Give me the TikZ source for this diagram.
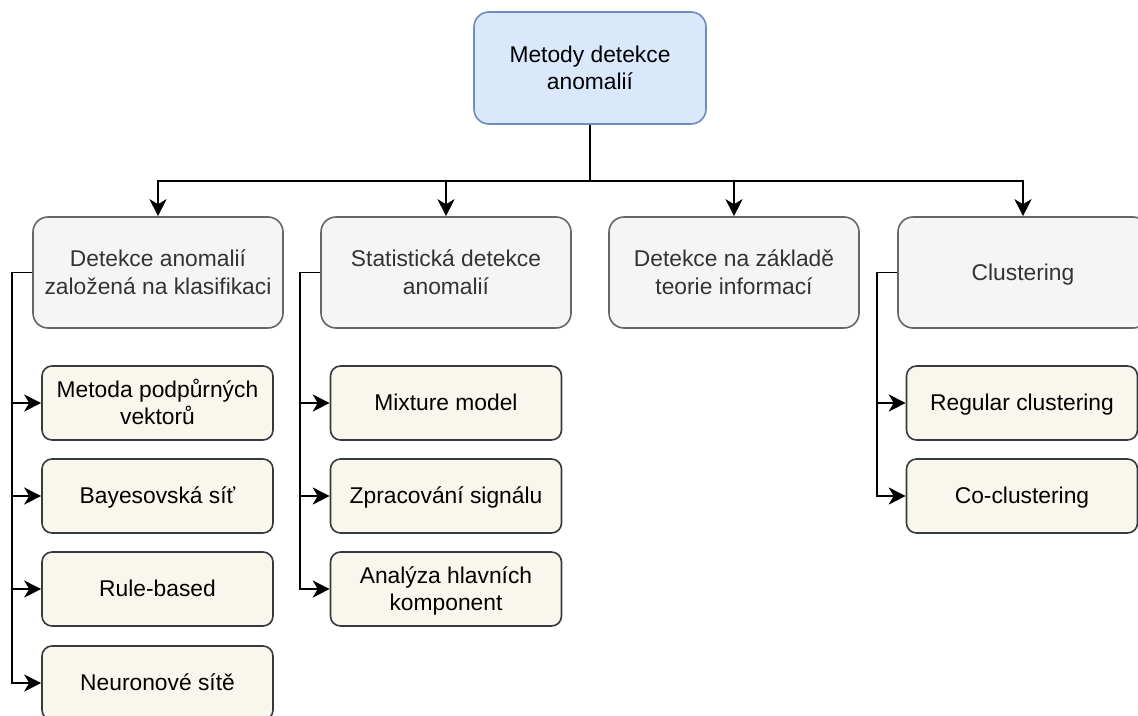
\documentclass[tikz,border=0pt]{standalone}
\usepackage{fontspec}
\setmainfont{Liberation Sans}
\usetikzlibrary{arrows.meta}
\definecolor{topfill}{HTML}{DAE8FC}
\definecolor{topdraw}{HTML}{6C8EBF}
\definecolor{midfill}{HTML}{F5F5F5}
\definecolor{middraw}{HTML}{666666}
\definecolor{midtext}{HTML}{333333}
\definecolor{leaffill}{HTML}{F9F7ED}
\definecolor{leafdraw}{HTML}{36393D}
\newcommand{\dstrut}{\rule[-0.2535em]{0pt}{1.2em}}
\tikzset{
  txt/.style={font=\fontsize{22.8}{27.4}\selectfont, align=center, inner sep=0pt},
  topbox/.style={txt, draw=topdraw, fill=topfill, line width=1.6pt, rounded corners=15pt,
    minimum width=232pt, minimum height=112pt},
  midbox/.style={txt, draw=middraw, fill=midfill, text=midtext, line width=1.6pt, rounded corners=15pt,
    minimum width=250pt, minimum height=111pt},
  leafbox/.style={txt, draw=leafdraw, fill=leaffill, line width=1.6pt, rounded corners=10pt,
    minimum width=231pt, minimum height=74pt},
  arr/.style={line width=1.8pt, -{Stealth[length=17pt,width=17pt,inset=5pt]}}
}
\begin{document}
\begin{tikzpicture}[x=1pt,y=-1pt]
\useasboundingbox (0,0) rectangle (1138,715);
\fill[white] (0,0) rectangle (1138,715);

\node[topbox] (top) at (590,68) {\dstrut Metody detekce\\\dstrut anomalií};

\node[midbox] (b1) at (158,272.5) {\dstrut Detekce anomalií\\\dstrut založená na klasifikaci};
\node[midbox] (b2) at (446,272.5) {\dstrut Statistická detekce\\\dstrut anomalií};
\node[midbox] (b3) at (734,272.5) {\dstrut Detekce na základě\\\dstrut teorie informací};
\node[midbox] (b4) at (1023,272.5) {\dstrut Clustering};

\node[leafbox] (l1) at (157.5,403) {\dstrut Metoda podpůrných\\\dstrut vektorů};
\node[leafbox] (l2) at (157.5,496) {\dstrut Bayesovská síť};
\node[leafbox] (l3) at (157.5,589) {\dstrut Rule-based};
\node[leafbox] (l4) at (157.5,683) {\dstrut Neuronové sítě};

\node[leafbox] (m1) at (446,403) {\dstrut Mixture model};
\node[leafbox] (m2) at (446,496) {\dstrut Zpracování signálu};
\node[leafbox] (m3) at (446,589) {\dstrut Analýza hlavních\\\dstrut komponent};

\node[leafbox] (r1) at (1022,403) {\dstrut Regular clustering};
\node[leafbox] (r2) at (1022,496) {\dstrut Co-clustering};

\foreach \b in {b1,b2,b3,b4}
  \draw[arr] (top.south) -- ++(0,56) -| (\b.north);

\foreach \l in {l1,l2,l3,l4}
  \draw[arr] (b1.west) -- ++(-20,0) |- (\l.west);
\foreach \m in {m1,m2,m3}
  \draw[arr] (b2.west) -- ++(-20,0) |- (\m.west);
\foreach \r in {r1,r2}
  \draw[arr] (b4.west) -- ++(-20,0) |- (\r.west);
\end{tikzpicture}
\end{document}
